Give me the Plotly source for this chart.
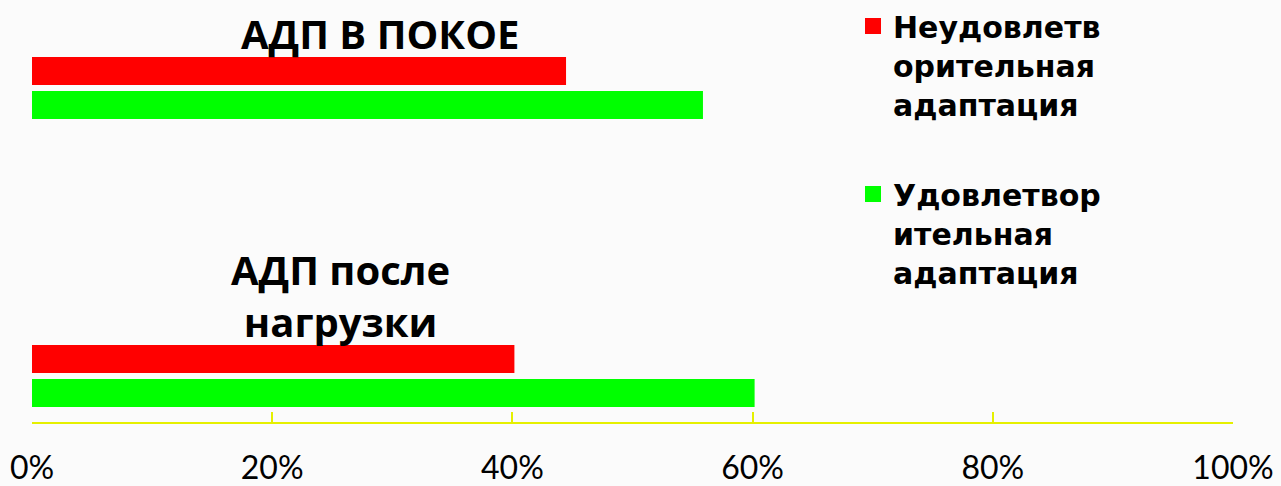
import plotly.graph_objects as go

categories = ["АДП В ПОКОЕ", "АДП после нагрузки"]
series_names = ["Неудовлетв<br>орительная<br>адаптация", "Удовлетвор<br>ительная<br>адаптация"]
unsatisfactory = [44.3, 40.0]
satisfactory = [55.7, 60.0]
tick_vals = [0, 20, 40, 60, 80, 100]
tick_text = ["0%", "20%", "40%", "60%", "80%", "100%"]
label_x = [29.0, 25.7]
label_text = ["АДП В ПОКОЕ", "АДП после<br>нагрузки"]

cat_order = categories[::-1]  # bottom to top

fig = go.Figure()
fig.add_trace(go.Bar(
    y=categories, x=satisfactory, orientation="h", name=series_names[1],
    marker=dict(color="#00ff00", line=dict(width=4, color="#00ff00")),
    legendgroup="b", legendrank=2,
))
fig.add_trace(go.Bar(
    y=categories, x=unsatisfactory, orientation="h", name=series_names[0],
    marker=dict(color="#ff0000", line=dict(width=4, color="#ff0000")),
    legendgroup="a", legendrank=1,
))

yshifts = [55, 81]
for i, cat in enumerate(categories):
    fig.add_annotation(
        x=label_x[i], y=cat_order.index(cat), xref="x", yref="y",
        text=label_text[i], showarrow=False, yshift=yshifts[i],
        font=dict(family="Open Sans", size=40, color="#000000", weight="bold"),
        xanchor="center", yanchor="middle",
    )

fig.update_layout(
    width=1281, height=486,
    margin=dict(l=32, r=48, t=0, b=64, autoexpand=False),
    paper_bgcolor="#fbfbfb", plot_bgcolor="rgba(0,0,0,0)",
    barmode="group", bargap=0.764, bargroupgap=0.294,
    showlegend=True,
    legend=dict(
        x=(853 - 32) / 1201, xanchor="left", y=1.0, yanchor="top",
        traceorder="grouped", tracegroupgap=48, valign="top",
        font=dict(family="DejaVu Sans", size=30, color="#000000", weight="bold"),
        bgcolor="rgba(0,0,0,0)",
    ),
    xaxis=dict(
        range=[0, 100], tickvals=tick_vals, ticktext=tick_text,
        showgrid=False, zeroline=False, automargin=False,
        showline=True, linecolor="#e5f000", linewidth=2,
        ticks="inside", ticklen=10, tickwidth=2, tickcolor="#e5f000",
        ticklabelstandoff=17,
        tickfont=dict(family="Lato", size=32, color="#000000"),
    ),
    yaxis=dict(
        type="category", categoryorder="array", categoryarray=cat_order,
        range=[-0.1597, 1.3056], showticklabels=False, showgrid=False,
        zeroline=False, showline=False, ticks="", automargin=False,
    ),
)

fig.write_html("out.html")
